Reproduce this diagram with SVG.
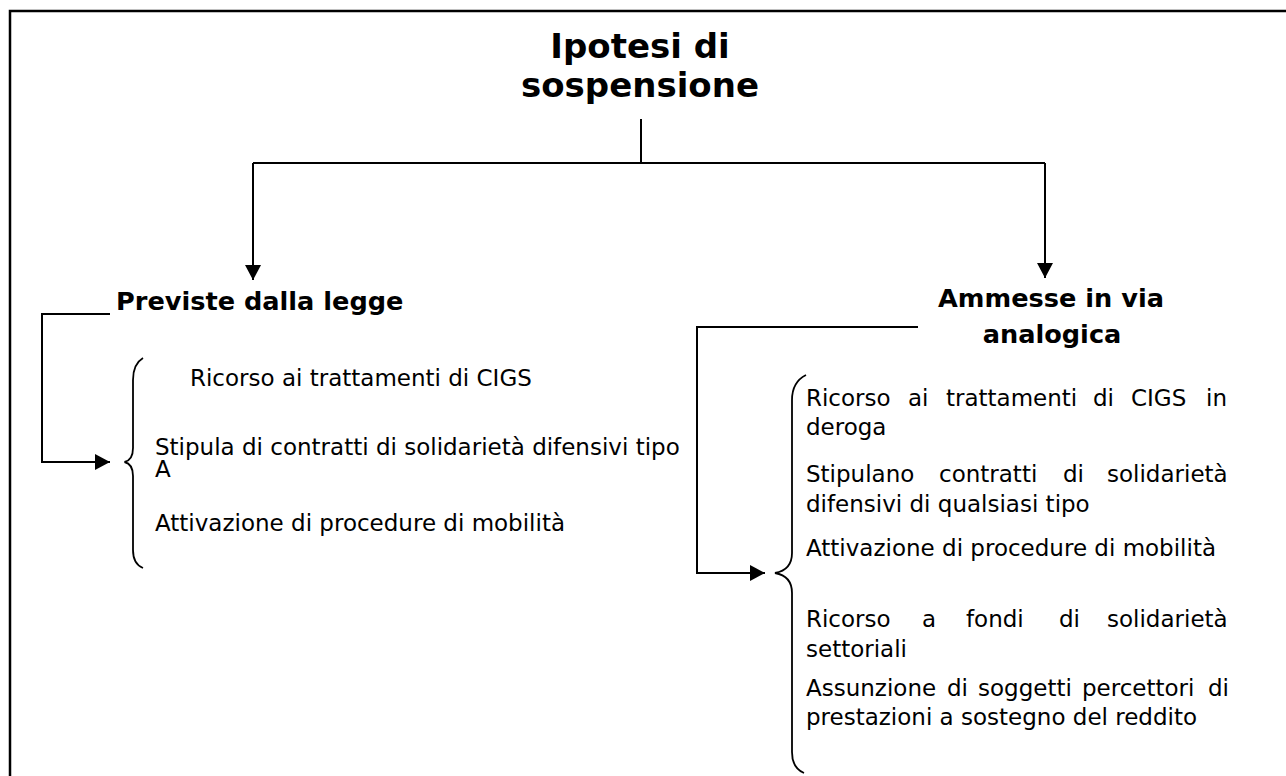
<svg xmlns="http://www.w3.org/2000/svg" width="1286" height="776" viewBox="0 0 1286 776">
<defs>
<marker id="arr" markerUnits="userSpaceOnUse" markerWidth="16" markerHeight="16" refX="15" refY="8" orient="auto">
<path d="M0,0 L15,8 L0,16 Z" fill="#000"/>
</marker>
<style>
.t{font-family:"DejaVu Sans",Verdana,sans-serif;font-size:23px;fill:#000}
.b{font-family:"DejaVu Sans",Verdana,sans-serif;font-weight:bold;font-size:25.6px;fill:#000}
.h{font-family:"DejaVu Sans",Verdana,sans-serif;font-weight:bold;font-size:34px;fill:#000}
.ln{fill:none;stroke:#000;stroke-width:2}
.br{fill:none;stroke:#000;stroke-width:1.8}
</style>
</defs>
<rect width="1286" height="776" fill="#fff"/>
<rect x="10" y="11" width="1300" height="800" fill="none" stroke="#000" stroke-width="2.5"/>

<g id="title">
<text class="h" text-anchor="middle"><tspan x="640" y="58">Ipotesi di</tspan><tspan x="640" y="97">sospensione</tspan></text>
</g>

<g id="node-previste">
<text class="b" x="116" y="310">Previste dalla legge</text>
</g>

<g id="node-ammesse">
<text class="b" text-anchor="middle"><tspan x="1051" y="307">Ammesse in via</tspan><tspan x="1052" y="343">analogica</tspan></text>
</g>

<g id="list-left">
<path class="br" d="M143,358 Q133,364 133,380 L133,448 Q133,460 124.5,462 Q133,464 133,476 L133,550 Q133,564 143,568"/>
<text class="t" x="190" y="386">Ricorso ai trattamenti di CIGS</text>
<text class="t" x="155" y="455">Stipula di contratti di solidarietà difensivi tipo</text>
<text class="t" x="155" y="477">A</text>
<text class="t" x="155" y="531">Attivazione di procedure di mobilità</text>
</g>

<g id="list-right">
<path class="br" d="M806,375 Q792,382 792,400 L792,553 Q792,570 775,573 Q792,576 792,593 L792,752 Q792,768 804,773"/>
<text class="t" y="406"><tspan x="806">Ricorso</tspan><tspan x="908">ai</tspan><tspan x="946">trattamenti</tspan><tspan x="1093">di</tspan><tspan x="1131">CIGS</tspan><tspan x="1206">in</tspan></text>
<text class="t" x="806" y="435">deroga</text>
<text class="t" y="482"><tspan x="806">Stipulano</tspan><tspan x="939">contratti</tspan><tspan x="1063">di</tspan><tspan x="1107">solidarietà</tspan></text>
<text class="t" x="806" y="512">difensivi di qualsiasi tipo</text>
<text class="t" x="806" y="556">Attivazione di procedure di mobilità</text>
<text class="t" y="627"><tspan x="806">Ricorso</tspan><tspan x="922">a</tspan><tspan x="966">fondi</tspan><tspan x="1059">di</tspan><tspan x="1107">solidarietà</tspan></text>
<text class="t" x="806" y="657">settoriali</text>
<text class="t" y="696"><tspan x="806">Assunzione</tspan><tspan x="947">di</tspan><tspan x="978">soggetti</tspan><tspan x="1082">percettori</tspan><tspan x="1208">di</tspan></text>
<text class="t" x="806" y="725">prestazioni a sostegno del reddito</text>
</g>

<g id="connectors">
<path class="ln" d="M641,119 L641,163"/>
<path class="ln" d="M253,163 L1045,163"/>
<path class="ln" d="M253,163 L253,280" marker-end="url(#arr)"/>
<path class="ln" d="M1045,163 L1045,278" marker-end="url(#arr)"/>
<path class="ln" d="M110,314 L42,314 L42,462 L110,462" marker-end="url(#arr)"/>
<path class="ln" d="M918,327 L697,327 L697,573 L765,573" marker-end="url(#arr)"/>
</g>
</svg>
